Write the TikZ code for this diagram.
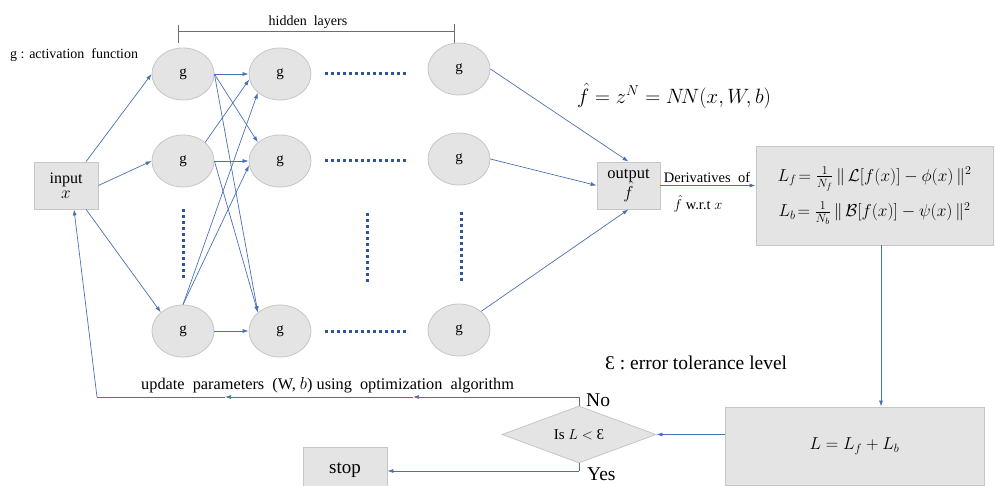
\documentclass[tikz,border=0pt]{standalone}
\usepackage{fontspec}
\setmainfont{Liberation Serif}
\usepackage{amsmath,amssymb}
\usetikzlibrary{shapes.geometric,arrows.meta,calc}

\definecolor{linkblue}{HTML}{4A70B4}
\definecolor{dotblue}{HTML}{2F5597}
\definecolor{nodefill}{HTML}{E4E4E4}
\definecolor{nodeline}{HTML}{C6C6C6}
\definecolor{bracketgray}{HTML}{6E6E6E}

\tikzset{
  neuron/.style={ellipse, draw=nodeline, fill=nodefill, line width=0.8pt,
    minimum width=62pt, minimum height=52pt, inner sep=0pt,
    font=\fontsize{15}{17}\selectfont},
  greybox/.style={rectangle, draw=nodeline, fill=nodefill, line width=0.8pt,
    inner sep=0pt, align=center},
  decision/.style={diamond, draw=nodeline, fill=nodefill, line width=0.8pt,
    inner sep=0pt, aspect=2.7, minimum width=154pt, minimum height=57pt},
  link/.style={draw=linkblue, line width=0.7pt},
  arr/.style={link, -{Latex[length=6pt,width=4pt]}},
  dotrow/.style={draw=dotblue, line width=3pt, dash pattern=on 3pt off 3pt},
  txt/.style={inner sep=0pt, font=\fontsize{14}{16}\selectfont},
  bigtxt/.style={inner sep=0pt, font=\fontsize{19.5}{21}\selectfont},
}

\begin{document}
\begin{tikzpicture}[x=1pt, y=-1pt]
\useasboundingbox (0,0) rectangle (995,486);

% hidden layers bracket
\node[txt] (hl) at (308,22) {hidden\ \ layers};
\coordinate (bl) at (178,32);
\coordinate (br) at (454,32);
\draw[bracketgray, line width=1pt] (bl) -- (br);
\draw[bracketgray, line width=1pt] ($(bl)+(0,-7)$) -- ($(bl)+(0,11)$);
\draw[bracketgray, line width=1pt] ($(br)+(0,-8)$) -- ($(br)+(0,11)$);

\node[txt, anchor=west] (actlabel) at (10,55) {g : activation\ \ function};

% neurons
\node[neuron] (c1a) at (183,74) {g};
\node[neuron] (c1b) at (183,161) {g};
\node[neuron] (c1c) at (183,331) {g};
\node[neuron] (c2a) at (280,74) {g};
\node[neuron] (c2b) at (280,161) {g};
\node[neuron] (c2c) at (280,331) {g};
\node[neuron] (c3a) at (459,69) {g};
\node[neuron] (c3b) at (459,159) {g};
\node[neuron] (c3c) at (459,330) {g};

% input / output
\node[greybox, minimum width=64pt, minimum height=47pt,
      font=\fontsize{16}{16}\selectfont] (input) at (66,185.5)
      {input\\[-1pt]$x$};
\node[greybox, minimum width=63pt, minimum height=47pt,
      font=\fontsize{16.5}{16}\selectfont] (output) at (628.5,185.5)
      {output\\[-2pt]$\hat f$};

% ellipsis dots
\draw[dotrow] (325,74) -- (408,74);
\draw[dotrow] (325,161) -- (408,161);
\draw[dotrow] (325,331) -- (408,331);
\draw[dotrow] (183,209) -- (183,280);
\draw[dotrow] (367,213) -- (367,284);
\draw[dotrow] (461,212) -- (461,283);

% input to first layer
\draw[arr] (input.50) -- (c1a.west);
\draw[arr] (input.east) -- (c1b.west);
\draw[arr] (input.-50) -- (c1c.north west);

% first layer to second layer
\draw[arr] (c1a.east) -- (c2a.west);
\draw[arr] (c1a.east) -- (c2b.north west);
\draw[arr] (c1a.east) -- (c2c.north west);
\draw[arr] (c1b.north east) -- (c2a.190);
\draw[arr] (c1b.east) -- (c2b.west);
\draw[arr] (c1b.east) -- (c2c.north west);
\draw[arr] (c1c.north) -- (c2a.south west);
\draw[arr] (c1c.north) -- (c2b.188);
\draw[arr] (c1c.east) -- (c2c.west);

% last layer to output
\draw[arr] (c3a.east) -- (output.north);
\draw[arr] (c3b.east) -- (output.west);
\draw[arr] (c3c.north east) -- (output.south);

\node[inner sep=0pt, anchor=west, font=\fontsize{19.5}{22}\selectfont] (fhat)
  at (577,96) {$\hat f = z^N = N\!N(x, W, b)$};

% loss terms
\node[greybox, minimum width=237pt, minimum height=99pt,
      font=\fontsize{17.4}{19}\selectfont] (loss) at (874.5,195.5)
  {$L_f\!= \frac{1}{N_f}\,\|\,\mathcal{L}[f(x)] - \phi(x)\,\|^2$\\[10pt]
   $L_b\!= \frac{1}{N_b}\,\|\,\mathcal{B}[f(x)] - \psi(x)\,\|^2$};
\draw[arr] (output.east) -- (loss.west |- output.east);
\node[txt, font=\fontsize{14.5}{16}\selectfont] (derivA) at (707,177) {Derivatives\ \ of};
\node[txt, font=\fontsize{14.5}{16}\selectfont] (derivB) at (698,204) {$\hat f$ w.r.t $x$};

\node[greybox, minimum width=259pt, minimum height=78pt,
      font=\fontsize{17.5}{19}\selectfont] (Lbox) at (854.5,446)
  {$L = L_f + L_b$};
\coordinate (drop) at (881,0);
\draw[arr] (loss.south -| drop) -- (Lbox.north -| drop);

\node[bigtxt, anchor=west] (tol) at (605,363) {Ɛ : error tolerance level};

\node[decision, font=\fontsize{15}{17}\selectfont] (dia) at (579,434.5)
  {Is $L <$ Ɛ};
\draw[arr] (Lbox.west |- dia.east) -- (dia.east);

\node[greybox, minimum width=84pt, minimum height=47pt,
      font=\fontsize{19}{21}\selectfont] (stop) at (345,470.5) {stop};

% decision outcomes
\coordinate (noTurn) at (579,397);
\coordinate (midA) at (413,397);
\coordinate (midB) at (225,397);
\coordinate (retCorner) at (97,397);
\draw[link] (dia.north) -- (noTurn);
\draw[arr] (noTurn) -- (midA);
\draw[arr] (midA) -- (midB);
\draw[link] (midB) -- (retCorner);
\draw[arr] (retCorner) -- ($(input.south)+(8,0)$);
\node[bigtxt, anchor=west] (nolab) at (586,400) {No};
\node[txt, anchor=west, font=\fontsize{16.3}{18}\selectfont] (updlab) at (141,385)
  {update\ \ parameters\ \ (W, $b$) using\ \ optimization\ \ algorithm};

\coordinate (yesTurn) at (579,471);
\draw[link] (dia.south) -- (yesTurn);
\draw[arr] (yesTurn) -- (stop.east |- yesTurn);
\node[bigtxt, anchor=west] (yeslab) at (587,474) {Yes};
\end{tikzpicture}
\end{document}
